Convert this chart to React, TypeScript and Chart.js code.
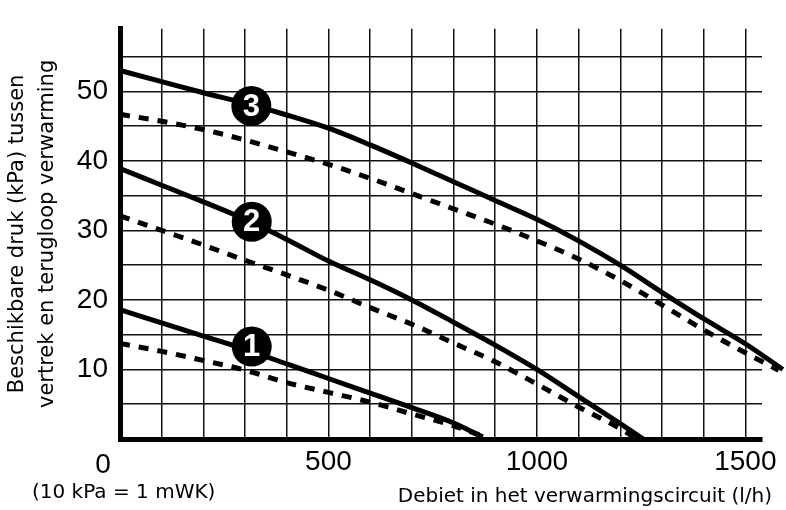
import React, { useEffect, useRef } from "react";
import { Chart, registerables } from "chart.js";

Chart.register(...registerables);

// Flow (l/h) and available pressure (kPa) per pump setting
const flow3Solid = [0, 100, 200, 300, 400, 500, 600, 700, 800, 900, 1000, 1100, 1200, 1300, 1400, 1500, 1590];
const solid3 = [53.0, 51.4, 49.8, 48.3, 46.6, 44.7, 42.3, 39.7, 37.0, 34.3, 31.6, 28.5, 25.0, 21.1, 17.3, 13.7, 10.0];
const flow3Dashed = [0, 100, 200, 300, 400, 500, 600, 700, 800, 900, 1000, 1100, 1200, 1300, 1400, 1500, 1580];
const dashed3 = [46.7, 45.7, 44.5, 43.0, 41.3, 39.5, 37.5, 35.3, 33.1, 30.9, 28.5, 25.9, 22.8, 19.3, 15.7, 12.4, 9.9];

const flow2Solid = [0, 100, 200, 300, 400, 500, 600, 700, 800, 900, 1000, 1100, 1200, 1255];
const solid2 = [38.9, 36.5, 34.1, 31.6, 28.7, 25.6, 22.9, 20.0, 16.8, 13.5, 10.0, 6.1, 2.2, 0];
const flow2Dashed = [0, 100, 200, 300, 400, 500, 600, 700, 800, 900, 1000, 1100, 1200, 1240];
const dashed2 = [32.1, 30.0, 27.9, 25.7, 23.6, 21.4, 18.9, 16.5, 13.8, 11.1, 7.9, 4.6, 1.5, 0];

const flow1Solid = [0, 100, 200, 300, 400, 500, 600, 700, 800, 870];
const solid1 = [18.6, 16.7, 14.8, 12.9, 10.8, 8.7, 6.6, 4.5, 2.3, 0.3];
const flow1Dashed = [0, 100, 200, 300, 400, 500, 600, 700, 800, 870];
const dashed1 = [13.75, 12.6, 11.3, 9.9, 8.1, 6.7, 5.3, 3.6, 1.9, 0.4];

// Numbered curve markers
const markerFlow = [315, 316, 316];
const markerPressure = [47.9, 31.25, 13.3];
const markerLabels = ["3", "2", "1"];

// Axis labels
const xTickLabels = [500, 1000, 1500];
const yTickLabels = [10, 20, 30, 40, 50];
const zeroLabel = "0";
const xTitle = "Debiet in het verwarmingscircuit (l/h)";
const yTitle = ["Beschikbare druk (kPa) tussen", "vertrek en terugloop verwarming"];
const noteText = "(10 kPa = 1 mWK)";

const toPoints = (xs: number[], ys: number[]) => xs.map((x, i) => ({ x, y: ys[i] }));

export default function App() {
  const ref = useRef<HTMLCanvasElement>(null);

  useEffect(() => {
    document.body.style.margin = "0";
    if (!ref.current) return;

    const lineDs = (label: string, xs: number[], ys: number[], dashed: boolean) => ({
      type: "line" as const,
      label,
      data: toPoints(xs, ys),
      borderColor: "#000",
      borderWidth: 5,
      borderDash: dashed ? [10, 9] : [],
      borderCapStyle: "butt" as const,
      pointRadius: 0,
      pointHoverRadius: 0,
      cubicInterpolationMode: "monotone" as const,
      fill: false,
      clip: false as any,
      order: 1,
    });

    const textPlugin = {
      id: "extraTexts",
      afterDatasetsDraw(chart: any) {
        const ctx = chart.ctx;
        const meta = chart.getDatasetMeta(0);
        ctx.save();
        ctx.fillStyle = "#fff";
        ctx.font = 'bold 31px "Liberation Sans"';
        ctx.textAlign = "center";
        ctx.textBaseline = "middle";
        meta.data.forEach((pt: any, i: number) => {
          ctx.fillText(markerLabels[i], pt.x, pt.y + 1);
        });
        ctx.restore();
      },
      afterDraw(chart: any) {
        const ctx = chart.ctx;
        const xs = chart.scales.x;
        const ys = chart.scales.y;
        ctx.save();
        ctx.fillStyle = "#000";
        ctx.font = '28px "Liberation Sans"';
        ctx.textAlign = "center";
        ctx.textBaseline = "middle";
        ctx.fillText(zeroLabel, xs.getPixelForValue(0) - 17, ys.getPixelForValue(0) + 26);
        ctx.font = '20px "DejaVu Sans"';
        ctx.textAlign = "left";
        ctx.fillText(noteText, 32, 493);
        ctx.textAlign = "right";
        ctx.fillText(xTitle, xs.right + 10, 497);
        ctx.restore();
      },
    };

    const chart = new Chart(ref.current, {
      type: "line",
      data: {
        datasets: [
          {
            type: "line",
            label: "markers",
            data: toPoints(markerFlow, markerPressure),
            showLine: false,
            pointRadius: 20,
            pointHoverRadius: 20,
            pointBackgroundColor: "#000",
            pointBorderColor: "#000",
            pointBorderWidth: 0,
            clip: false as any,
            order: 0,
          } as any,
          lineDs("3", flow3Solid, solid3, false),
          lineDs("3b", flow3Dashed, dashed3, true),
          lineDs("2", flow2Solid, solid2, false),
          lineDs("2b", flow2Dashed, dashed2, true),
          lineDs("1", flow1Solid, solid1, false),
          lineDs("1b", flow1Dashed, dashed1, true),
        ],
      },
      options: {
        responsive: false,
        animation: false,
        events: [],
        layout: { padding: { top: 15, right: 24, left: 0, bottom: 0 } },
        plugins: { legend: { display: false }, tooltip: { enabled: false } },
        scales: {
          x: {
            type: "linear",
            min: 0,
            max: 1540,
            ticks: {
              stepSize: 100,
              includeBounds: false,
              autoSkip: false,
              maxRotation: 0,
              minRotation: 0,
              padding: 6,
              color: "#000",
              font: { family: "Liberation Sans", size: 28 },
              callback: (v: any) => (xTickLabels.includes(Math.round(Number(v))) ? String(Math.round(Number(v))) : ""),
            },
            grid: { color: "#111", lineWidth: 1.5, drawTicks: false },
            border: { color: "#000", width: 5 },
            afterFit: (s: any) => {
              s.height = 71;
            },
          },
          y: {
            type: "linear",
            min: 0,
            max: 59,
            ticks: {
              stepSize: 5,
              includeBounds: false,
              autoSkip: false,
              padding: 12,
              color: "#000",
              font: { family: "Liberation Sans", size: 28 },
              callback: (v: any) => (yTickLabels.includes(Math.round(Number(v))) ? String(Math.round(Number(v))) : ""),
            },
            grid: { color: "#111", lineWidth: 1.5, drawTicks: false },
            border: { color: "#000", width: 5 },
            title: {
              display: true,
              text: yTitle,
              color: "#000",
              font: { family: "DejaVu Sans", size: 21, lineHeight: 1.45 },
              padding: { top: 2, bottom: 0 },
            },
            afterFit: (s: any) => {
              s.width = 120;
            },
          },
        },
      } as any,
      plugins: [textPlugin],
    });

    return () => chart.destroy();
  }, []);

  return (
    <div style={{ width: 786, height: 510 }}>
      <canvas ref={ref} width={786} height={510} style={{ display: "block" }} />
    </div>
  );
}
